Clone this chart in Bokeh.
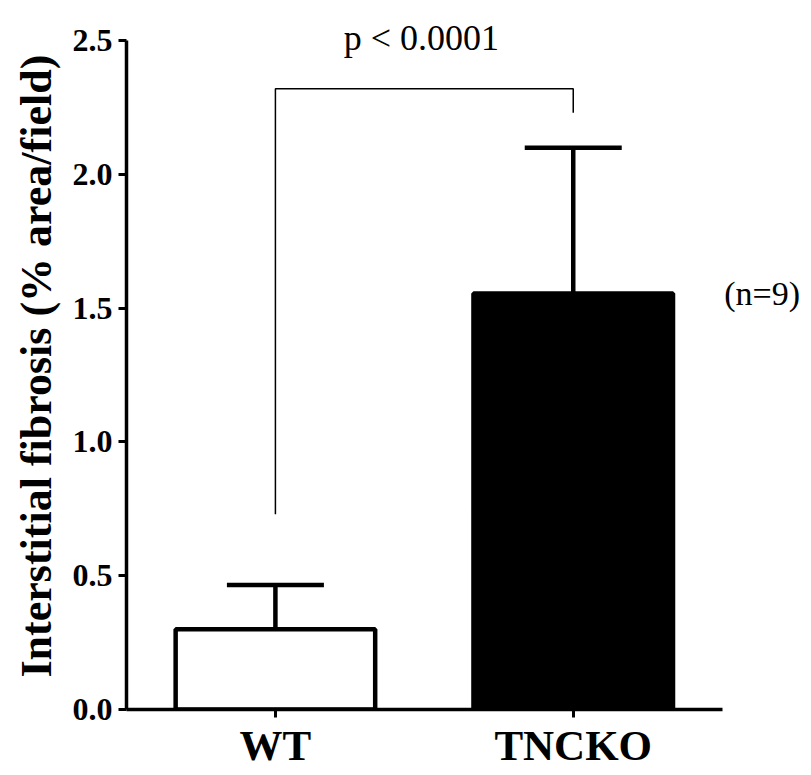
from bokeh.plotting import figure
from bokeh.models import (ColumnDataSource, Range1d, Whisker, TeeHead,
                          Label, FixedTicker, Title)
from bokeh.embed import file_html
from bokeh.resources import INLINE

# ---- data ----
categories = ["WT", "TNCKO"]
means = [0.30, 1.555]
sems = [0.165, 0.545]
fills = ["white", "black"]
y_ticks = [0.0, 0.5, 1.0, 1.5, 2.0, 2.5]
y_tick_labels = ["0.0", "0.5", "1.0", "1.5", "2.0", "2.5"]
# significance bracket (data units)
bracket_top = 2.32
bracket_left_bottom = 0.73
bracket_right_bottom = 2.23
p_text = "p < 0.0001"
n_text = "(n=9)"
y_label = "Interstitial fibrosis (% area/field)"

xs = [i + 0.5 for i in range(len(categories))]
upper = [m + s for m, s in zip(means, sems)]

src = ColumnDataSource(dict(x=xs, mean=means, upper=upper, fill=fills))

SERIF = "Liberation Serif"

p = figure(x_range=Range1d(0, 2.3), y_range=Range1d(0, 2.65),
           width=811, height=775,
           output_backend="svg", toolbar_location=None,
           min_border_left=126, min_border_top=0, min_border_right=0,
           min_border_bottom=66)
p.outline_line_color = None
p.xgrid.grid_line_color = None
p.ygrid.grid_line_color = None
p.background_fill_color = "white"
p.border_fill_color = "white"

p.vbar(x="x", top="mean", bottom=0, width=0.67, source=src,
       fill_color="fill", line_color="black", line_width=4.5)

w = Whisker(base="x", lower="mean", upper="upper", source=src,
            line_color="black", line_width=4.5,
            upper_head=TeeHead(size=97, line_width=4.5, line_color="black"),
            lower_head=None)
p.add_layout(w)

# bracket
p.line(x=[xs[0], xs[0], xs[1], xs[1]],
       y=[bracket_left_bottom, bracket_top, bracket_top, bracket_right_bottom],
       line_color="black", line_width=1.5)

p.add_layout(Label(x=(xs[0] + xs[1]) / 2, y=2.51, x_offset=-3, text=p_text,
                   text_align="center", text_baseline="alphabetic", text_font=SERIF,
                   text_font_size="36px", text_color="black"))
p.add_layout(Label(x=2.0, y=means[1], x_offset=2, text=n_text, text_align="left",
                   text_baseline="middle", text_font=SERIF,
                   text_font_size="34px", text_color="black"))

# y axis
ya = p.yaxis[0]
ya.ticker = FixedTicker(ticks=y_ticks)
ya.bounds = (0, 2.5)
ya.major_label_overrides = {t: l for t, l in zip(y_ticks, y_tick_labels)}
ya.minor_tick_line_color = None
ya.axis_line_width = 3.5
ya.major_tick_line_width = 3
ya.major_tick_out = 8
ya.major_tick_in = 0
ya.major_label_text_font = SERIF
ya.major_label_text_font_style = "bold"
ya.major_label_text_font_size = "32px"
ya.major_label_text_color = "black"
ya.major_label_standoff = 6

# y axis title as left title (so it can be positioned along the bounded axis)
yt = Title(text=y_label, align="left", offset=32, text_font=SERIF,
           text_font_style="bold", text_font_size="44px", text_color="black",
           standoff=18)
p.add_layout(yt, "left")

xa = p.xaxis[0]
xa.ticker = FixedTicker(ticks=xs)
xa.bounds = (0, 2.0)
xa.major_label_overrides = {x: c for x, c in zip(xs, categories)}
xa.axis_line_width = 3.5
xa.major_tick_line_width = 3
xa.major_tick_out = 8
xa.major_tick_in = 0
xa.minor_tick_line_color = None
xa.major_label_text_font = SERIF
xa.major_label_text_font_style = "bold"
xa.major_label_text_font_size = "43px"
xa.major_label_text_color = "black"
xa.major_label_standoff = 4

open("out.html", "w").write(file_html(p, INLINE))
